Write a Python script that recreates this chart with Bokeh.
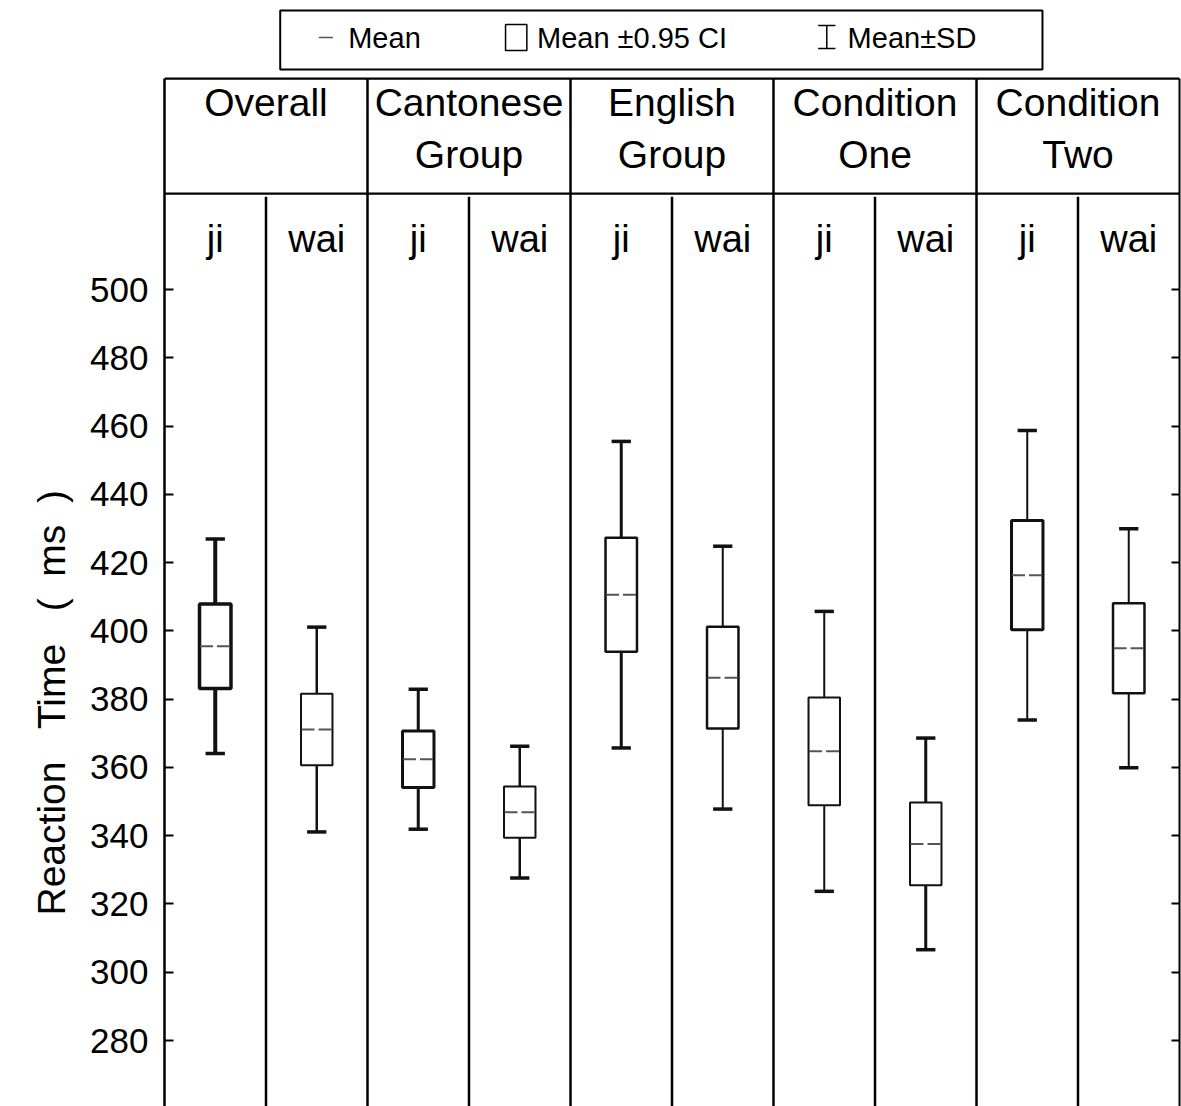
import numpy as np
from bokeh.plotting import figure
from bokeh.models import Range1d, LinearAxis, FixedTicker, Title, ColumnDataSource
from bokeh.core.properties import value
from bokeh.embed import file_html
from bokeh.resources import INLINE

# ---- data -----------------------------------------------------------------
group_line1 = ["Overall", "Cantonese", "English", "Condition", "Condition"]
group_line2 = ["", "Group", "Group", "One", "Two"]
conditions = ["ji", "wai"]

# one entry per (group, condition), in reading order
means = [395.5, 371.1, 362.4, 346.9, 410.6, 386.3, 364.7, 337.6, 416.3, 394.9]
ci95 = [12.4, 10.5, 8.3, 7.5, 16.7, 14.9, 15.8, 12.1, 16.0, 13.2]
sds = [31.4, 30.0, 20.5, 19.3, 44.9, 38.5, 41.0, 31.0, 42.4, 35.0]

y_ticks = [280, 300, 320, 340, 360, 380, 400, 420, 440, 460, 480, 500]

# ---- styles ---------------------------------------------------------------
FONT = value("Liberation Sans")
box_line_width = [3.5, 2, 3, 2, 2.5, 2.5, 2, 2, 3, 2.5]
whisker_line_width = [4, 2.5, 3, 2.5, 3, 2, 2, 3, 2, 2]

# vertical extent of the table (value units)
Y_LO, Y_HI = 260.67, 584.66
HEADER_TOP = 561.8
HEADER_BOTTOM = 528.1
SUBHEADER_TOP = 527.2

n_groups = len(group_line1)
n_cond = len(conditions)
n = n_groups * n_cond

means = np.array(means)
ci95 = np.array(ci95)
sds = np.array(sds)
xs = np.arange(n) + 0.5
BOX_W = 0.31
CAP_W = 0.19

p = figure(width=1181, height=1106,
           x_range=Range1d(0, n), y_range=Range1d(Y_LO, Y_HI),
           x_axis_type=None, y_axis_type=None, title=None,
           output_backend="svg", toolbar_location=None,
           min_border_left=164, min_border_right=2,
           min_border_top=0, min_border_bottom=0)
p.outline_line_color = None
p.background_fill_color = "white"
p.border_fill_color = "white"

# ---- axes -----------------------------------------------------------------
left = LinearAxis(ticker=FixedTicker(ticks=y_ticks), bounds=(Y_LO, HEADER_TOP),
                  major_tick_in=9, major_tick_out=0, minor_tick_in=0, minor_tick_out=0,
                  axis_line_width=2.5, axis_line_color="black",
                  major_tick_line_width=2, major_tick_line_color="black",
                  major_label_standoff=16,
                  major_label_text_font="Liberation Sans",
                  major_label_text_font_size="35px",
                  major_label_text_color="black")
p.add_layout(left, "left")

right = LinearAxis(ticker=FixedTicker(ticks=y_ticks), bounds=(Y_LO, HEADER_TOP),
                   major_tick_in=8, major_tick_out=0, minor_tick_in=0, minor_tick_out=0,
                   axis_line_width=2, axis_line_color="black",
                   major_tick_line_width=2, major_tick_line_color="black",
                   major_label_standoff=0, major_label_text_font_size="0px")
p.add_layout(right, "right")

NB = "\u00a0"
ytitle = Title(text=f"Reaction{NB*3}Time{NB*3}({NB*2}ms{NB*2})", align="left", offset=191,
               standoff=30, text_font="Liberation Sans", text_font_size="39px",
               text_font_style="normal", text_color="black")
p.add_layout(ytitle, "left")

# ---- table frame ----------------------------------------------------------
group_edges = np.arange(1, n_groups) * n_cond
sub_edges = np.arange(n_groups) * n_cond + 1
p.segment(x0=group_edges, x1=group_edges, y0=HEADER_TOP, y1=Y_LO,
          line_color="black", line_width=2.5)
p.segment(x0=sub_edges, x1=sub_edges, y0=SUBHEADER_TOP, y1=Y_LO,
          line_color="black", line_width=2.5)
p.segment(x0=[0, 0], x1=[n, n], y0=[HEADER_TOP, HEADER_BOTTOM], y1=[HEADER_TOP, HEADER_BOTTOM],
          line_color="black", line_width=2.2)

group_x = np.arange(n_groups) * n_cond + n_cond / 2
p.text(x=group_x, y=[554.8] * n_groups, text=group_line1,
       text_align="center", text_baseline="alphabetic",
       text_font=FONT, text_font_size="39px", text_color="black")
p.text(x=group_x, y=[539.6] * n_groups, text=group_line2,
       text_align="center", text_baseline="alphabetic",
       text_font=FONT, text_font_size="39px", text_color="black")
p.text(x=xs, y=[514.9] * n, text=conditions * n_groups,
       text_align="center", text_baseline="alphabetic",
       text_font=FONT, text_font_size="38px", text_color="black")

# ---- boxes and whiskers ---------------------------------------------------
src = ColumnDataSource(dict(
    x=xs, mean=means,
    lo_ci=means - ci95, hi_ci=means + ci95,
    lo_sd=means - sds, hi_sd=means + sds,
    left=xs - BOX_W / 2, right=xs + BOX_W / 2,
    cap_l=xs - CAP_W / 2, cap_r=xs + CAP_W / 2,
    m_l=xs - 0.15, m_r=xs + 0.15,
    bw=box_line_width, ww=whisker_line_width,
))
p.segment(x0="x", x1="x", y0="lo_sd", y1="hi_sd", source=src,
          line_color="#111111", line_width="ww")
p.quad(left="left", right="right", bottom="lo_ci", top="hi_ci", source=src,
       fill_color="white", line_color="#111111", line_width="bw")
p.segment(x0="m_l", x1="m_r", y0="mean", y1="mean", source=src,
          line_color="#555555", line_width=2, line_dash="13 4")
p.segment(x0="cap_l", x1="cap_r", y0="hi_sd", y1="hi_sd", source=src,
          line_color="#111111", line_width=3.5)
p.segment(x0="cap_l", x1="cap_r", y0="lo_sd", y1="lo_sd", source=src,
          line_color="#111111", line_width=3.5)

# ---- key ------------------------------------------------------------------
p.quad(left=1.14, right=8.65, bottom=564.45, top=581.73,
       fill_color="white", line_color="black", line_width=2)
p.segment(x0=1.52, x1=1.66, y0=573.8, y1=573.8, line_color="#555555", line_width=1.5)
p.quad(left=3.36, right=3.57, bottom=570.0, top=577.6,
       fill_color="white", line_color="black", line_width=1.5)
p.segment(x0=[6.525, 6.44, 6.44], x1=[6.525, 6.61, 6.61],
          y0=[570.6, 577.3, 570.6], y1=[577.3, 577.3, 570.6],
          line_color="black", line_width=1.5)
p.text(x=[1.81, 3.67, 6.73], y=[573.8] * 3,
       text=["Mean", "Mean \u00b10.95 CI", "Mean\u00b1SD"],
       text_align="left", text_baseline="middle",
       text_font=FONT, text_font_size="29px", text_color="black")

open("out.html", "w").write(file_html(p, INLINE))
